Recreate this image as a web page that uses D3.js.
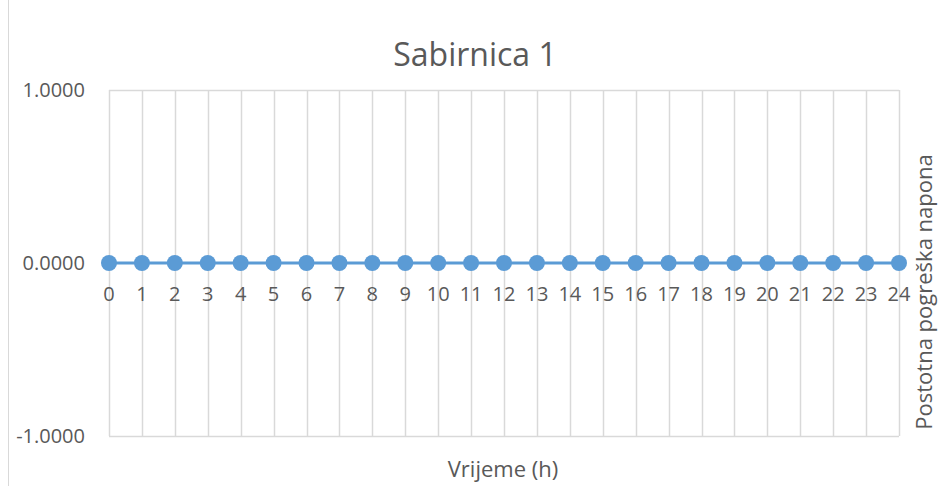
<!DOCTYPE html>
<html>
<head>
<meta charset="utf-8">
<script src="https://cdn.jsdelivr.net/npm/d3@7"></script>
<style>
  html, body { margin: 0; padding: 0; background: #fff; }
  svg { display: block; }
  text { font-family: "Open Sans", "Liberation Sans", sans-serif; fill: #595959; }
</style>
</head>
<body>
<svg id="chart" width="941" height="486"></svg>
<script>
// Hourly voltage percentage error at bus 1
const hours = [0,1,2,3,4,5,6,7,8,9,10,11,12,13,14,15,16,17,18,19,20,21,22,23,24];
const errorValues = [0,0,0,0,0,0,0,0,0,0,0,0,0,0,0,0,0,0,0,0,0,0,0,0,0];
const yTicks = [-1, 0, 1];
const titleText = "Sabirnica 1";
const xTitle = "Vrijeme (h)";
const yTitle = "Postotna pogreška napona";

const svg = d3.select("#chart");
const W = 941, H = 486;
const m = { left: 109, right: 42, top: 90, bottom: 50 };

const x = d3.scaleLinear().domain([0, 24]).range([m.left, W - m.right]);
const y = d3.scaleLinear().domain([-1, 1]).range([H - m.bottom, m.top]);

// chart border (left edge visible)
svg.append("line").attr("x1", 8.5).attr("x2", 8.5).attr("y1", 0).attr("y2", H)
  .attr("stroke", "#d9d9d9").attr("stroke-width", 1);

// vertical gridlines
svg.append("g").selectAll("line").data(hours).join("line")
  .attr("x1", d => Math.round(x(d)) + 0.5).attr("x2", d => Math.round(x(d)) + 0.5)
  .attr("y1", y(1)).attr("y2", y(-1))
  .attr("stroke", "#d9d9d9").attr("stroke-width", 1.5);

// horizontal gridlines at top and bottom
svg.append("g").selectAll("line").data([1, -1]).join("line")
  .attr("x1", x(0)).attr("x2", x(24))
  .attr("y1", d => Math.round(y(d)) + 0.5).attr("y2", d => Math.round(y(d)) + 0.5)
  .attr("stroke", "#d9d9d9").attr("stroke-width", 1.5);

// y tick labels
svg.append("g").selectAll("text").data(yTicks).join("text")
  .attr("x", 85).attr("y", d => y(d) + 7)
  .attr("text-anchor", "end")
  .attr("font-size", 20)
  .text(d => d3.format(".4f")(d).replace("−", "-"));

// x tick labels under the zero line
svg.append("g").selectAll("text").data(hours).join("text")
  .attr("x", d => x(d)).attr("y", y(0) + 38)
  .attr("text-anchor", "middle").attr("font-size", 20)
  .text(d => d);

// series line
const line = d3.line().x((d, i) => x(hours[i])).y(d => y(d));
svg.append("path").datum(errorValues)
  .attr("d", line).attr("fill", "none")
  .attr("stroke", "#5b9bd5").attr("stroke-width", 3);

svg.append("g").selectAll("circle").data(errorValues).join("circle")
  .attr("cx", (d, i) => x(hours[i])).attr("cy", d => y(d))
  .attr("r", 8).attr("fill", "#5b9bd5");

// titles
svg.append("text").attr("x", 475).attr("y", 66)
  .attr("text-anchor", "middle").attr("font-size", 32).text(titleText);

svg.append("text").attr("x", 503).attr("y", 477)
  .attr("text-anchor", "middle").attr("font-size", 22).text(xTitle);

svg.append("text")
  .attr("transform", `translate(932, 292) rotate(-90)`)
  .attr("text-anchor", "middle").attr("font-size", 22).text(yTitle);
</script>
</body>
</html>
